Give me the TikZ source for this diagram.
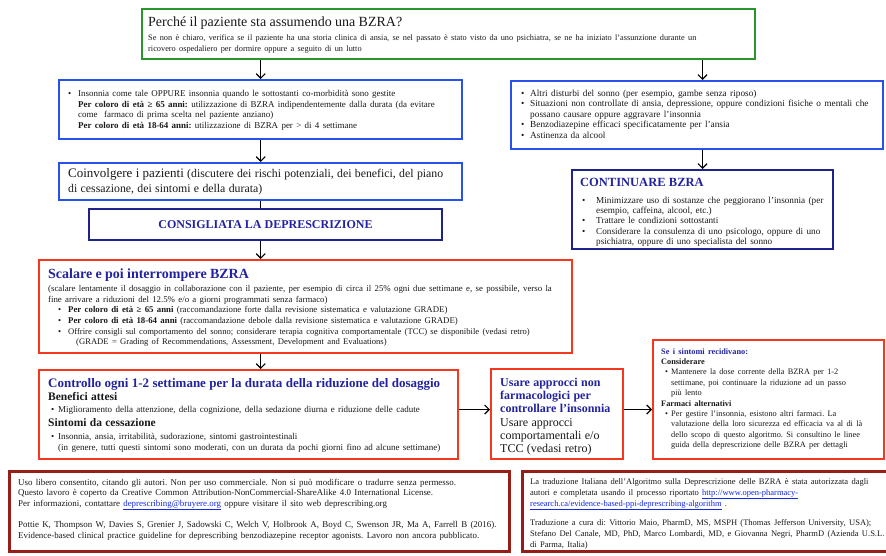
\documentclass[tikz,border=0pt]{standalone}
\usepackage{fontspec}
\setmainfont{Liberation Serif}
\usetikzlibrary{arrows.meta}

\definecolor{grn}{RGB}{40,150,45}
\definecolor{blu}{RGB}{40,80,235}
\definecolor{navy}{RGB}{30,35,140}
\definecolor{navytxt}{RGB}{35,35,160}
\definecolor{redb}{RGB}{245,55,30}
\definecolor{dred}{RGB}{150,30,25}
\definecolor{ink}{RGB}{25,25,25}
\definecolor{lnk}{RGB}{20,40,230}

\setlength\parindent{0pt}
\setlength\parskip{0pt}
\frenchspacing

% font size / baseline skip
\newcommand\fs[2]{\fontsize{#1}{#2}\selectfont}
% bullet paragraph: #1 bullet offset, #2 text offset (hanging indent)
\newcommand\bul[2]{\par\noindent\hangindent=#2\hangafter=1\hbox to #2{\hspace*{#1}•\hfil}\strut\ignorespaces}

\begin{document}
\begin{tikzpicture}[x=1pt,y=-1pt,
  frame/.style={anchor=north west, inner sep=0pt, fill=white},
  txt/.style={anchor=north west, inner sep=0pt, align=left, text=ink, text width=#1},
  txt/.default=420pt,
  arr/.style={-{Straight Barb[length=4.5pt,width=9pt]}, line width=1.2pt, black}]

\useasboundingbox (0,0) rectangle (886,555);
\fill[white] (0,0) rectangle (886,555);

% ---------- boxes ----------
\node[frame, draw=grn, line width=2pt, minimum width=613pt, minimum height=50pt] (why) at (141,8) {};
\node[frame, draw=blu, line width=2.4pt, minimum width=403pt, minimum height=59pt] (lb) at (58,79) {};
\node[frame, draw=blu, line width=2.4pt, minimum width=372pt, minimum height=68pt] (rb) at (510,80) {};
\node[frame, draw=blu, line width=2.4pt, minimum width=403pt, minimum height=37pt] (coin) at (58,162) {};
\node[frame, draw=navy, line width=2pt, minimum width=353pt, minimum height=31pt] (cons) at (88,208) {};
\node[frame, draw=navy, line width=2pt, minimum width=261pt, minimum height=79pt] (cont) at (571,169) {};
\node[frame, draw=redb, line width=2pt, minimum width=533pt, minimum height=93pt] (scal) at (38,259) {};
\node[frame, draw=redb, line width=2pt, minimum width=419pt, minimum height=89pt] (ctrl) at (38,369) {};
\node[frame, draw=redb, line width=2pt, minimum width=132pt, minimum height=90pt] (usa) at (490,368) {};
\node[frame, draw=redb, line width=2pt, minimum width=231pt, minimum height=119pt] (sint) at (652,339) {};
\node[frame, draw=dred, line width=2.6pt, minimum width=500pt, minimum height=80pt] (lic) at (8,470) {};
\node[frame, draw=dred, line width=2.6pt, minimum width=370pt, minimum height=80pt] (trad) at (521,470) {};

% ---------- texts ----------
\node[txt=600pt] (whyT) at (148,14.8) {\fs{14}{16}\strut Perché il paziente sta assumendo una BZRA?\par};
\node[txt=600pt] (whyS) at (148,32.3) {\fs{8.3}{11}\strut Se non è chiaro, verifica se il paziente ha una storia clinica di ansia, se nel passato è stato visto da uno psichiatra, se ne ha iniziato l’assunzione durante un\newline ricovero ospedaliero per dormire oppure a seguito di un lutto\par};

\node[txt] (lbT) at (68,85.6) {\fs{8.95}{10.6}\bul{0pt}{10pt}Insonnia come tale OPPURE insonnia quando le sottostanti co-morbidità sono gestite\newline
\textbf{Per coloro di età ≥ 65 anni:} utilizzazione di BZRA indipendentemente dalla durata (da evitare\newline
come\ \ farmaco di prima scelta nel paziente anziano)\newline
\textbf{Per coloro di età 18-64 anni:} utilizzazione di BZRA per > di 4 settimane\par};

\node[txt] (rbT) at (521,85.6) {\fs{9.3}{10.5}\bul{0pt}{9pt}Altri disturbi del sonno (per esempio, gambe senza riposo)
\bul{0pt}{9pt}Situazioni non controllate di ansia, depressione, oppure condizioni fisiche o mentali che\newline possano causare oppure aggravare l’insonnia
\bul{0pt}{9pt}Benzodiazepine efficaci specificatamente per l’ansia
\bul{0pt}{9pt}Astinenza da alcool\par};

\node[txt] (coinT) at (68,166.5) {\fs{13}{15}\strut Coinvolgere i pazienti {\fs{11.8}{15}(discutere dei rischi potenziali, dei benefici, del piano}\newline{\fs{11.8}{15}di cessazione, dei sintomi e della durata)}\par};

\node[inner sep=0pt, text=navytxt, font=\fs{12}{13}\bfseries] (consT) at (cons.center) {CONSIGLIATA LA DEPRESCRIZIONE};

\node[txt] (contH) at (580,176.2) {\fs{12.5}{14}\bfseries\color{navytxt}\strut CONTINUARE BZRA\par};
\node[txt] (contT) at (582,192.8) {\fs{9.2}{10.3}\bul{0pt}{14pt}Minimizzare uso di sostanze che peggiorano l’insonnia (per\newline esempio, caffeina, alcool, etc.)
\bul{0pt}{14pt}Trattare le condizioni sottostanti
\bul{0pt}{14pt}Considerare la consulenza di uno psicologo, oppure di uno\newline psichiatra, oppure di uno specialista del sonno\par};

\node[txt] (scalH) at (48,267.5) {\fs{14}{15}\bfseries\color{navytxt}\strut Scalare e poi interrompere BZRA\par};
\node[txt=530pt] (scalT) at (48,284) {\fs{8.8}{10.6}\strut (scalare lentamente il dosaggio in collaborazione con il paziente, per esempio di circa il 25\% ogni due settimane e, se possibile, verso la\newline fine arrivare a riduzioni del 12.5\% e/o a giorni programmati senza farmaco)
\bul{10pt}{20pt}\textbf{Per coloro di età ≥ 65 anni} (raccomandazione forte dalla revisione sistematica e valutazione GRADE)
\bul{10pt}{20pt}\textbf{Per coloro di età 18-64 anni} (raccomandazione debole dalla revisione sistematica e valutazione GRADE)
\bul{10pt}{20pt}{\fs{8.6}{10.6}Offrire consigli sul comportamento del sonno; considerare terapia cognitiva comportamentale (TCC) se disponibile (vedasi retro)\newline\hspace*{8pt}(GRADE = Grading of Recommendations, Assessment, Development and Evaluations)}\par};

\node[txt] (ctrlH) at (48,377.2) {\fs{13}{14}\bfseries\color{navytxt}\strut Controllo ogni 1-2 settimane per la durata della riduzione del dosaggio\par};
\node[txt] (ctrlT) at (48,390.9) {\fs{11.5}{13}{\bfseries\strut Benefici attesi}\par
\fs{9}{11}\bul{3pt}{10pt}Miglioramento della attenzione, della cognizione, della sedazione diurna e riduzione delle cadute\par
\fs{11.5}{14}{\bfseries\strut Sintomi da cessazione}\par
\fs{9}{11}\bul{3pt}{10pt}Insonnia, ansia, irritabilità, sudorazione, sintomi gastrointestinali\newline (in genere, tutti questi sintomi sono moderati, con un durata da pochi giorni fino ad alcune settimane)\par};

\node[txt] (usaT) at (500,376.7) {\fs{12}{13.3}{\bfseries\color{navytxt}\strut Usare approcci non\newline farmacologici per\newline controllare l’insonnia}\newline Usare approcci\newline comportamentali e/o\newline TCC (vedasi retro)\par};

\node[txt] (sintT) at (661,346.7) {\fs{8.3}{10.4}{\bfseries\color{navytxt}\strut Se i sintomi recidivano:}\newline{\bfseries Considerare}
\bul{4pt}{10pt}Mantenere la dose corrente della BZRA per 1-2\newline settimane, poi continuare la riduzione ad un passo\newline più lento\par
{\bfseries\strut Farmaci alternativi}
\bul{4pt}{10pt}Per gestire l’insonnia, esistono altri farmaci. La\newline valutazione della loro sicurezza ed efficacia va al di là\newline dello scopo di questo algoritmo. Si consultino le linee\newline guida della deprescrizione delle BZRA per dettagli\par};

\node[txt=490pt] (licT) at (18,477.6) {\fs{8.9}{10.5}\strut Uso libero consentito, citando gli autori. Non per uso commerciale. Non si può modificare o tradurre senza permesso.\newline
Questo lavoro è coperto da Creative Common Attribution-NonCommercial-ShareAlike 4.0 International License.\newline
Per informazioni, contattare {\color{lnk}\underline{deprescribing@bruyere.org}} oppure visitare il sito web deprescribing.org\par\vspace{9.5pt}
\strut Pottie K, Thompson W, Davies S, Grenier J, Sadowski C, Welch V, Holbrook A, Boyd C, Swenson JR, Ma A, Farrell B (2016).\newline
Evidence-based clinical practice guideline for deprescribing benzodiazepine receptor agonists. Lavoro non ancora pubblicato.\par};

\node[txt] (tradT) at (530,476.3) {\fs{8.5}{11}\strut La traduzione Italiana dell’Algoritmo sulla Deprescrizione delle BZRA è stata autorizzata dagli\newline
autori e completata usando il processo riportato {\color{lnk}\underline{http://www.open-pharmacy-}}\newline
{\color{lnk}\underline{research.ca/evidence-based-ppi-deprescribing-algorithm}} .\par\vspace{7pt}
\strut Traduzione a cura di: Vittorio Maio, PharmD, MS, MSPH (Thomas Jefferson University, USA);\newline
Stefano Del Canale, MD, PhD, Marco Lombardi, MD, e Giovanna Negri, PharmD (Azienda U.S.L.\newline
di Parma, Italia)\par};

% ---------- connectors ----------
\draw[arr] (why.south -| lb.north) -- (lb.north);
\draw[arr] (why.south -| cont.north) -- (rb.north -| cont.north);
\draw[arr] (rb.south -| cont.north) -- (cont.north);
\draw[arr] (lb.south) -- (coin.north);
\draw[line width=1.2pt] (coin.south) -- (cons.north -| coin.south);
\draw[arr] (cons.south -| coin.south) -- (scal.north -| coin.south);
\draw[arr] (scal.south -| coin.south) -- (ctrl.north -| coin.south);
\coordinate (hy) at (0,409.5);
\draw[arr] (ctrl.east |- hy) -- (usa.west |- hy);
\draw[arr] (usa.east |- hy) -- (sint.west |- hy);
\end{tikzpicture}
\end{document}
